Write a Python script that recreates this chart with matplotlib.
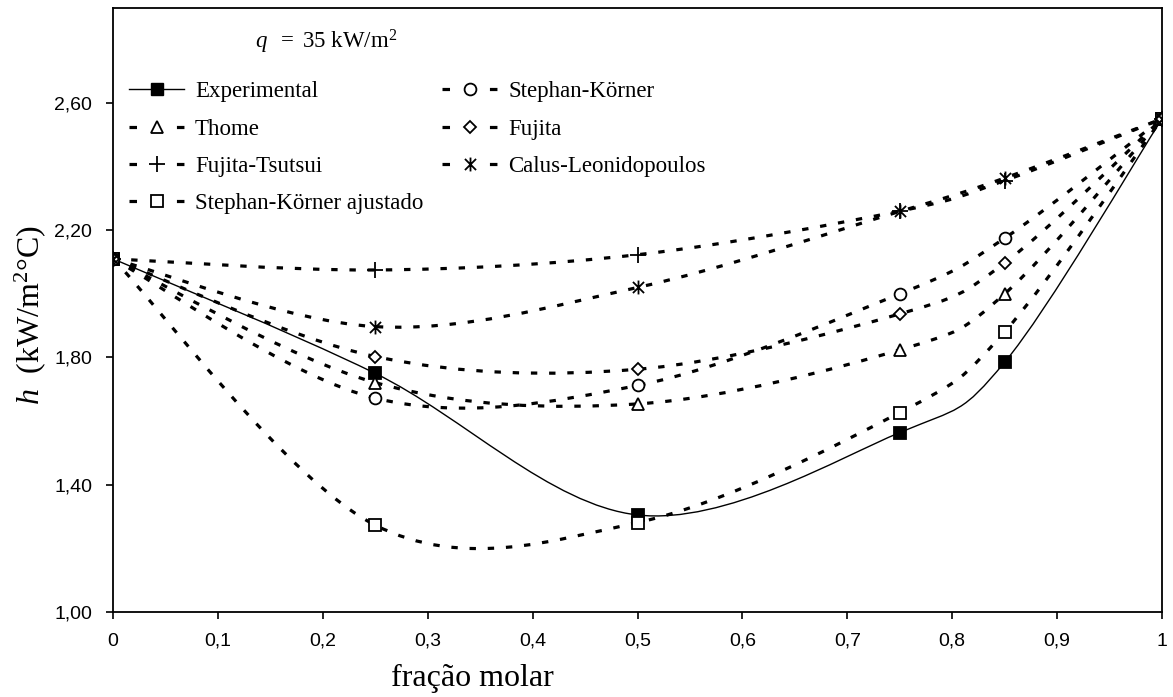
import matplotlib
matplotlib.use("Agg")
import matplotlib.pyplot as plt
from matplotlib.path import Path
from matplotlib.patches import PathPatch
from matplotlib.lines import Line2D
import numpy as np

plt.rcParams['font.family'] = 'Liberation Serif'
plt.rcParams['mathtext.fontset'] = 'custom'
plt.rcParams['mathtext.rm'] = 'Liberation Serif'
plt.rcParams['mathtext.it'] = 'Liberation Serif:italic'

# data
x = [0, 0.25, 0.5, 0.75, 0.85, 1]
experimental = [2.11, 1.75, 1.305, 1.564, 1.785, 2.55]
stephan_korner = [2.11, 1.672, 1.712, 2.00, 2.175, 2.55]
thome = [2.11, 1.721, 1.654, 1.824, 2.00, 2.55]
fujita = [2.11, 1.803, 1.763, 1.937, 2.097, 2.55]
fujita_tsutsui = [2.11, 2.075, 2.123, 2.26, 2.356, 2.55]
calus = [2.11, 1.897, 2.02, 2.259, 2.364, 2.55]
sk_ajustado = [2.11, 1.273, 1.281, 1.627, 1.881, 2.55]

xticks = [0, 0.1, 0.2, 0.3, 0.4, 0.5, 0.6, 0.7, 0.8, 0.9, 1]
xticklabels = ['0', '0,1', '0,2', '0,3', '0,4', '0,5', '0,6', '0,7', '0,8', '0,9', '1']
yticks = [1.0, 1.4, 1.8, 2.2, 2.6]
yticklabels = ['1,00', '1,40', '1,80', '2,20', '2,60']

# asterisk marker like excel's (X plus vertical bar)
star = Path([(-1, -1), (1, 1), (-1, 1), (1, -1), (0, -1.25), (0, 1.25)],
            [Path.MOVETO, Path.LINETO, Path.MOVETO, Path.LINETO, Path.MOVETO, Path.LINETO])


def smooth_path(xs, ys):
    # excel-like smoothed line: bezier segments with 1/6 tangents
    p = np.column_stack([xs, ys])
    n = len(p)
    verts = [p[0]]
    codes = [Path.MOVETO]
    for i in range(n - 1):
        prev = p[i - 1] if i > 0 else p[i]
        nxt = p[i + 2] if i + 2 < n else p[i + 1]
        c1 = p[i] + (p[i + 1] - prev) / 6
        c2 = p[i + 1] - (nxt - p[i]) / 6
        verts += [c1, c2, p[i + 1]]
        codes += [Path.CURVE4] * 3
    return Path(verts, codes)


fig = plt.figure(figsize=(11.73, 6.97), dpi=100)
ax = fig.add_axes([113 / 1173, 85 / 697, 1049 / 1173, 604.5 / 697])

dash = (0, (2, 3.7))
series = [
    ('Experimental', experimental, 's', 'black', 8, '-'),
    ('Thome', thome, '^', 'white', 9, dash),
    ('Fujita-Tsutsui', fujita_tsutsui, '+', 'none', 11, dash),
    ('Stephan-Körner ajustado', sk_ajustado, 's', 'white', 8, dash),
    ('Stephan-Körner', stephan_korner, 'o', 'white', 8.5, dash),
    ('Fujita', fujita, 'D', 'white', 6.5, dash),
    ('Calus-Leonidopoulos', calus, star, 'none', 10, dash),
]

handles = []
for name, ys, mk, fc, ms, ls in series:
    lw = 1.0 if ls == '-' else 2.3
    ax.add_patch(PathPatch(smooth_path(x, ys), fill=False, lw=lw, ls=ls,
                           edgecolor='black', capstyle='butt', zorder=2))
    ax.plot(x, ys, ls='none', marker=mk, ms=ms, mfc=fc, mec='black',
            mew=1.3, zorder=3)
    if ls == '-':
        h = Line2D([], [], color='black', lw=1.0, marker=mk, ms=ms, mfc=fc,
                   mec='black')
    else:
        h = Line2D([], [], color='black', lw=2.3, ls=(0, (2.35, 12.5)),
                   dash_capstyle='butt', marker=mk, ms=ms, mfc=fc,
                   mec='black', mew=1.3)
    handles.append(h)

ax.legend(handles, [s[0] for s in series], ncol=2, frameon=False,
          loc='upper left', bbox_to_anchor=(0.0153, 0.878), fontsize=16.5,
          handlelength=2.4, handletextpad=0.48, columnspacing=0.83,
          labelspacing=0.71, borderaxespad=0, borderpad=0)

ax.text(0.135, 0.943, r'$q\ \ =\ 35\ \mathrm{kW/m^{2}}$', transform=ax.transAxes,
        fontsize=16.5, va='center', ha='left')

ax.set_xlim(0, 1)
ax.set_ylim(1.0, 2.90)
ax.set_xticks(xticks)
ax.set_xticklabels(xticklabels, family='Liberation Sans', fontsize=14)
ax.set_yticks(yticks)
ax.set_yticklabels(yticklabels, family='Liberation Sans', fontsize=14)
ax.tick_params(direction='out', length=5, width=1.2, pad=10)

for sp in ax.spines.values():
    sp.set_linewidth(1.3)

fig.text(472 / 1173, 1 - 678 / 697, 'fração molar', fontsize=23,
         ha='center', va='center')
fig.text(30 / 1173, 1 - 315 / 697, r'$h\ \ \mathrm{(kW/m^{2}°C)}$', fontsize=23,
         ha='center', va='center', rotation=90)

fig.savefig('out.png', dpi=100)
